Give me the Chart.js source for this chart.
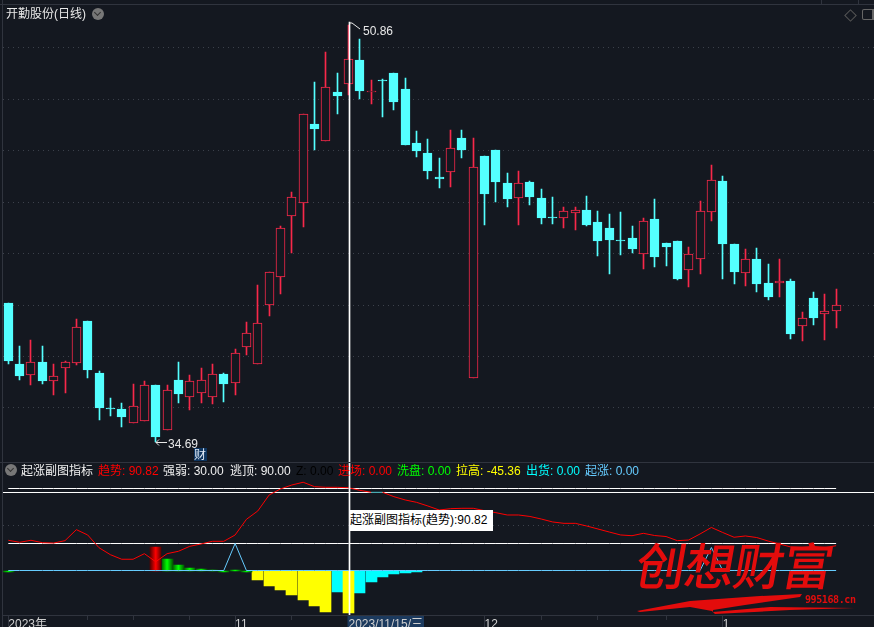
<!DOCTYPE html>
<html>
<head>
<meta charset="utf-8">
<title>开勤股份</title>
<script src="https://cdn.jsdelivr.net/npm/chart.js@4/dist/chart.umd.min.js"></script>
<style>
  html, body { margin: 0; padding: 0; background: #141820; }
  #wrap { position: relative; width: 874px; height: 627px; overflow: hidden; background: #141820;
    font-family: "Liberation Sans", "Noto Sans CJK SC", sans-serif; }
  #kline { position: absolute; left: 0; top: 0; }
  .t { position: absolute; white-space: nowrap; font-size: 12px; line-height: 14px; }
  .hr { position: absolute; left: 0; width: 874px; height: 1px; background: #30343e; }
  .dot { position: absolute; width: 12px; height: 12px; border-radius: 50%; background: #777; }
  .dot:after { content: ""; position: absolute; left: 3px; top: 2px; width: 4px; height: 4px;
    border: solid #333; border-width: 0 1px 1px 0; transform: rotate(45deg); }
  #tip { position: absolute; left: 350px; top: 510px; width: 143px; height: 21px; background: #fff; color: #000;
    font-size: 12px; line-height: 21px; white-space: nowrap; }
  #mark { position: absolute; left: 637px; top: 533px; color: #e30c0c; font-size: 50px; line-height: 60px; font-weight: 500;
    font-family: "Noto Sans CJK SC"; white-space: nowrap; transform: skewX(-10deg); letter-spacing: -1px; }
  #site { position: absolute; left: 805px; top: 594px; color: #e30c0c; font: bold 10px "DejaVu Sans Mono"; letter-spacing: -0.4px; }
  svg { position: absolute; left: 0; top: 0; pointer-events: none; }
</style>
</head>
<body>
<div id="wrap">
  <canvas id="kline" width="876" height="627"></canvas>
  <div class="hr" style="top:4px"></div>
  <div class="hr" style="top:462px"></div>
  <div style="position:absolute;left:2px;top:0;width:1px;height:627px;background:#30343e"></div>

  <div class="t" style="left:6px;top:7px;color:#e8e8e8">开勤股份(日线)</div>
  <div class="dot" style="left:92px;top:8px"></div>
  <div style="position:absolute;left:846px;top:11px;width:7px;height:7px;border:1px solid #555;transform:rotate(45deg)"></div>
  <div style="position:absolute;left:862px;top:9px;width:9px;height:9px;border:1px solid #666;border-radius:2px;border-right-width:4px"></div>

  <div class="t" style="left:363px;top:24px;color:#e8e8e8">50.86</div>
  <div class="t" style="left:168px;top:437px;color:#e8e8e8">34.69</div>
  <div class="t" style="left:194px;top:448px;width:13px;height:13px;background:#0e3560;color:#dfe8f5">财</div>

  <div class="dot" style="left:5px;top:464px"></div>
  <div class="t" style="left:21px;top:464px;color:#f0f0f0">起涨副图指标</div>
  <div class="t" style="left:98px;top:464px;color:#ff0000">趋势: 90.82</div>
  <div class="t" style="left:163px;top:464px;color:#f0f0f0">强弱: 30.00</div>
  <div class="t" style="left:230px;top:464px;color:#f0f0f0">逃顶: 90.00</div>
  <div class="t" style="left:296px;top:464px;color:#000">Z: 0.00</div>
  <div class="t" style="left:338px;top:464px;color:#ff0000">进场: 0.00</div>
  <div class="t" style="left:397px;top:464px;color:#00ff00">洗盘: 0.00</div>
  <div class="t" style="left:456px;top:464px;color:#ffff00">拉高: -45.36</div>
  <div class="t" style="left:526px;top:464px;color:#00ffff">出货: 0.00</div>
  <div class="t" style="left:585px;top:464px;color:#66ccff">起涨: 0.00</div>

  <div id="tip">起涨副图指标(趋势):90.82</div>

  <div id="mark">创想财富</div>
  <svg width="874" height="627">
    <polyline points="349,23 352,23 360,29" fill="none" stroke="#e8e8e8" stroke-width="1"/>
    <polyline points="159,439.5 156,442.5 159,445.5 M" fill="none" stroke="#e8e8e8" stroke-width="1"/>
    <line x1="156" y1="442.5" x2="167" y2="442.5" stroke="#e8e8e8" stroke-width="1"/>
    <line x1="821.5" y1="0" x2="821.5" y2="4" stroke="#30343e"/>
    <line x1="858.5" y1="0" x2="858.5" y2="4" stroke="#30343e"/>
    <polygon fill="#e30c0c" points="637,611 690,601 760,596 802,594 800,597 745,605 713,610 713,612 770,607 855,608 790,610 715,614 712,611 690,607 640,612"/>
  </svg>
  <div id="site">995168.cn</div>
</div>

<script>
// values
const dates = [
  '2023/09/26', '2023/09/27', '2023/09/28', '2023/10/09', '2023/10/10', '2023/10/11', '2023/10/12', '2023/10/13',
  '2023/10/16', '2023/10/17', '2023/10/18', '2023/10/19', '2023/10/20', '2023/10/23', '2023/10/24', '2023/10/25',
  '2023/10/26', '2023/10/27', '2023/10/30', '2023/10/31', '2023/11/01', '2023/11/02', '2023/11/03', '2023/11/06',
  '2023/11/07', '2023/11/08', '2023/11/09', '2023/11/10', '2023/11/13', '2023/11/14', '2023/11/15', '2023/11/16',
  '2023/11/17', '2023/11/20', '2023/11/21', '2023/11/22', '2023/11/23', '2023/11/24', '2023/11/27', '2023/11/28',
  '2023/11/29', '2023/11/30', '2023/12/01', '2023/12/04', '2023/12/05', '2023/12/06', '2023/12/07', '2023/12/08',
  '2023/12/11', '2023/12/12', '2023/12/13', '2023/12/14', '2023/12/15', '2023/12/18', '2023/12/19', '2023/12/20',
  '2023/12/21', '2023/12/22', '2023/12/25', '2023/12/26', '2023/12/27', '2023/12/28', '2023/12/29', '2024/01/02',
  '2024/01/03', '2024/01/04', '2024/01/05', '2024/01/08', '2024/01/09', '2024/01/10', '2024/01/11', '2024/01/12',
  '2024/01/15', '2024/01/16', '', '', ''
];

const opens = [
  40.08, 37.71, 37.29, 37.79, 37.06, 37.57, 37.76, 39.38, 37.36, 36.00,
  35.96, 35.43, 35.51, 36.89, 35.16, 37.09, 36.44, 36.59, 36.44, 37.32,
  36.98, 38.38, 37.72, 39.99, 41.08, 43.44, 43.95, 47.03, 46.38, 48.27,
  48.59, 49.51, 48.27, 48.74, 49.01, 48.39, 46.29, 45.90, 44.97, 45.18,
  46.49, 37.15, 45.79, 46.02, 44.74, 44.17, 44.78, 44.16, 43.42, 43.39,
  43.58, 43.69, 43.22, 42.99, 42.52, 42.60, 41.99, 43.34, 42.41, 42.49,
  41.37, 41.80, 43.62, 44.82, 42.37, 41.25, 41.79, 40.85, 40.85, 40.93,
  39.20, 40.27, 39.66, 39.78
];
const closes = [
  37.83, 37.24, 37.77, 37.05, 37.23, 37.77, 39.13, 37.48, 36.00, 35.96,
  35.65, 36.07, 36.88, 34.89, 36.69, 36.54, 37.04, 37.08, 37.31, 36.93,
  38.12, 38.90, 39.29, 41.27, 42.98, 44.18, 47.41, 46.83, 48.45, 48.12,
  49.54, 48.31, 48.31, 48.70, 47.88, 46.21, 45.98, 45.20, 44.89, 46.09,
  46.02, 45.35, 44.31, 44.78, 44.12, 44.73, 44.19, 43.38, 43.38, 43.64,
  43.68, 43.11, 42.49, 42.52, 42.49, 42.17, 43.25, 41.86, 42.25, 41.01,
  41.97, 43.64, 44.84, 42.37, 41.28, 41.77, 40.82, 40.31, 40.93, 38.87,
  39.48, 39.50, 39.76, 39.99
];
const highs = [
  40.08, 38.41, 38.64, 38.41, 37.71, 37.83, 39.46, 39.38, 37.44, 36.39,
  36.19, 36.93, 37.05, 36.89, 36.89, 37.79, 37.28, 37.55, 37.71, 37.36,
  38.29, 39.34, 40.78, 41.27, 43.07, 44.39, 47.41, 48.66, 49.83, 49.01,
  50.86, 50.33, 48.74, 48.78, 49.01, 48.82, 46.76, 46.45, 45.71, 46.80,
  46.80, 46.49, 45.79, 46.02, 45.13, 45.20, 44.82, 44.50, 44.19, 43.81,
  43.81, 44.23, 43.65, 43.53, 43.61, 43.07, 43.38, 44.12, 42.41, 42.49,
  42.25, 44.04, 45.44, 45.01, 42.37, 42.17, 42.21, 41.59, 41.79, 41.01,
  39.73, 40.50, 40.43, 40.62
];
const lows = [
  37.71, 37.09, 36.89, 36.93, 36.50, 36.58, 37.67, 37.17, 35.53, 35.69,
  35.26, 35.43, 35.51, 34.69, 35.16, 36.19, 35.92, 36.19, 36.16, 36.23,
  36.50, 38.06, 37.72, 39.57, 40.43, 42.02, 43.04, 46.02, 46.38, 47.42,
  48.16, 48.00, 47.81, 47.30, 47.57, 46.21, 45.75, 44.89, 44.54, 44.58,
  45.71, 37.15, 43.11, 44.00, 43.81, 43.11, 43.88, 43.15, 43.15, 42.99,
  42.91, 43.07, 41.90, 41.20, 41.94, 42.02, 41.40, 41.48, 41.51, 40.97,
  40.70, 41.20, 43.26, 41.01, 40.82, 40.74, 40.50, 40.19, 40.31, 38.68,
  38.60, 39.22, 38.64, 39.11
];

// sub panel
const trend = [
  33.5, 31.3, 33.5, 30.9, 30.5, 33.1, 45.1, 39.3, 25.4, 17.8,
  12.8, 12.8, 18.9, 10.1, 18.9, 21.5, 26.9, 29.5, 32.4, 32.4,
  39.3, 56.4, 65.5, 82.9, 89.5, 93.8, 96.8, 92.0, 91.3, 91.3,
  90.82, 88.0, 85.9, 85.9, 81.1, 77.5, 74.9, 70.9, 66.5, 68.0,
  68.4, 68.4, 65.8, 63.6, 61.1, 61.1, 59.5, 56.7, 53.5, 52.0,
  52.0, 49.1, 45.8, 42.5, 39.3, 38.5, 41.1, 38.7, 37.6, 33.1,
  33.8, 40.4, 47.5, 42.0, 36.8, 38.2, 36.5, 32.7, 29.5, 26.2,
  25.6, 26.7, 25.4, 27.6
];
const strength = new Array(74).fill(30);   // 强弱
const escapeTop = new Array(74).fill(90);  // 逃顶
const rise = [
  0, 0, 0, 0, 0, 0, 0, 0, 0, 0, 0, 0, 0, 0, 0, 0, 0, 0, 0, 0,
  30, 0, 0, 0, 0, 0, 0, 0, 0, 0, 0, 0, 0, 0, 0, 0, 0, 0, 0, 0,
  0, 0, 0, 0, 0, 0, 0, 0, 0, 0, 0, 0, 0, 0, 0, 0, 0, 0, 0, 0,
  0, 0, 26, 0, 0, 0, 0, 0, 0, 0, 0, 0, 0, 0
];
const enter = { 13: 26 };
const wash = { 0: 0.5, 14: 13, 15: 6.5, 16: 3.3, 17: 2.2, 18: 1, 19: 0.5, 20: 0.7, 21: 0.5 };
const pull = { 22: -9.8, 23: -16.4, 24: -20.7, 25: -26.2, 26: -31.6, 27: -38.2, 28: -44.7, 30: -45.36 };
const ship = { 29: -22.9, 31: -24, 32: -12, 33: -6.5, 34: -3.3, 35: -2.2, 36: -1.1 };

const priceTicks = [36, 38, 40, 42, 44, 46, 48, 50];
const subTicks = [50, 85.9];
const cursorIndex = 30;
const cursorRange = [27.96, 50.99];
const axisLabels = { 0: '2023年', 20: '11', 30: '2023/11/15/三', 42: '12', 63: '1' };
const minorTicks = [7, 11, 16, 25, 47, 52, 58];

const UP = '#f8284a';
const DOWN = '#54ffff';
const BG = '#141820';

function spread(map) {
  return dates.map(function (d, i) { return map[i] === undefined ? null : map[i]; });
}

function isUp(i) { return closes[i] > opens[i]; }

function glow(edge, mid) {
  return function (c) {
    if (c.type !== 'data') return mid;
    const x = c.chart.scales.x.getPixelForValue(c.dataIndex);
    if (!isFinite(x)) return mid;
    const g = c.chart.ctx.createLinearGradient(x - 5.5, 0, x + 5.5, 0);
    g.addColorStop(0, edge);
    g.addColorStop(0.5, mid);
    g.addColorStop(1, edge);
    return g;
  };
}

function subBar(values, color) {
  return {
    type: 'bar', yAxisID: 'y2', grouped: false, barThickness: 11, order: 4,
    data: spread(values), backgroundColor: color, borderWidth: 0
  };
}

function subLine(values, color, order, snap) {
  return {
    type: 'line', yAxisID: 'y2', data: values, borderColor: color, borderWidth: 1,
    pointRadius: 0, tension: 0, order: order, snap: snap
  };
}

const trendLine = subLine(trend, '#ff0000', 1, false);
trendLine.segment = {
  borderColor: function (c) { return (c.p0DataIndex === 32) ? '#108f98' : '#ff0000'; }
};

// the reference is drawn on whole pixels, so snap the finished elements to them
const pixelSnap = {
  id: 'pixelSnap',
  beforeDatasetsDraw: function (chart) {
    chart.data.datasets.forEach(function (ds, n) {
      const meta = chart.getDatasetMeta(n);
      meta.data.forEach(function (el) {
        if (meta.type === 'bar') {
          el.x = Math.floor(el.x) + 0.5 + (ds.cursor ? 1 : 0);
          const top = Math.round(Math.min(el.y, el.base));
          const bottom = Math.max(Math.round(Math.max(el.y, el.base)), top + 1);
          el.y = top;
          el.base = bottom;
        } else if (ds.snap) {
          el.y = Math.floor(el.y) + 0.5;
        }
      });
    });
  }
};

new Chart(document.getElementById('kline'), {
  type: 'bar',
  plugins: [pixelSnap],
  data: {
    labels: dates,
    datasets: [
      // cursor
      {
        yAxisID: 'y', grouped: false, barThickness: 1, order: 0, cursor: true,
        data: dates.map(function (d, i) { return i === cursorIndex ? cursorRange : null; }),
        backgroundColor: '#ffffff'
      },
      trendLine,
      subLine(rise, '#66ccff', 2, true),
      subLine(strength, '#ffffff', 3, true),
      subLine(escapeTop, '#ffffff', 3, true),
      subBar(enter, glow('#5a0000', '#ff0000')),
      subBar(wash, glow('#006000', '#00ff00')),
      subBar(pull, '#ffff00'),
      subBar(ship, '#00ffff'),
      // candle bodies
      {
        yAxisID: 'y', grouped: false, barThickness: 9, order: 5,
        data: opens.map(function (o, i) { return [o, closes[i]]; }),
        backgroundColor: function (c) { return isUp(c.dataIndex) ? BG : DOWN; },
        borderColor: function (c) { return isUp(c.dataIndex) ? UP : DOWN; },
        borderWidth: 1, borderSkipped: false
      },
      // wicks
      {
        yAxisID: 'y', grouped: false, barThickness: 1, order: 6,
        data: lows.map(function (l, i) { return [l, highs[i]]; }),
        backgroundColor: function (c) { return isUp(c.dataIndex) ? UP : DOWN; }
      }
    ]
  },
  options: {
    responsive: false,
    animation: false,
    devicePixelRatio: 1,
    layout: { padding: { left: 2.64, right: 0.18, top: 12, bottom: 0 } },
    plugins: { legend: { display: false }, tooltip: { enabled: false } },
    events: [],
    scales: {
      x: {
        offset: true,
        afterFit: function (s) { s.height = 12; },
        border: { color: '#30343e' },
        grid: {
          offset: false,
          drawOnChartArea: false,
          tickLength: 12,
          tickColor: function (c) {
            const i = c.index;
            if (minorTicks.indexOf(i) >= 0) return '#30343e';
            return (axisLabels[i] && i !== cursorIndex) ? '#30343e' : 'rgba(0,0,0,0)';
          },
          tickBorderDash: function (c) { return minorTicks.indexOf(c.index) >= 0 ? [4, 40] : []; }
        },
        ticks: {
          autoSkip: false, maxRotation: 0, minRotation: 0, align: 'start', padding: -10,
          color: '#cfcfcf',
          font: { family: '"Liberation Sans", "Noto Sans CJK SC"', size: 12 },
          showLabelBackdrop: function (c) { return c.index === cursorIndex; },
          backdropColor: '#1c3a5e',
          backdropPadding: { x: 1, y: 1 },
          callback: function (v, i) { return axisLabels[i] || ''; }
        }
      },
      y: {
        position: 'left', min: 27.96, max: 51.38,
        afterFit: function (s) { s.width = 0; },
        afterBuildTicks: function (s) { s.ticks = priceTicks.map(function (v) { return { value: v }; }); },
        ticks: { display: false },
        border: { display: false, dash: [1, 4] },
        grid: { drawTicks: false, color: '#3c414b' }
      },
      y2: {
        position: 'left', min: -48, max: 609.8,
        afterFit: function (s) { s.width = 0; },
        afterBuildTicks: function (s) { s.ticks = subTicks.map(function (v) { return { value: v }; }); },
        ticks: { display: false },
        border: { display: false, dash: function (c) { return c.tick && c.tick.value === 50 ? [1, 4] : []; } },
        grid: {
          drawTicks: false,
          color: function (c) { return c.tick && c.tick.value === 50 ? '#3c414b' : '#ffffff'; }
        }
      }
    }
  }
});
</script>
</body>
</html>
